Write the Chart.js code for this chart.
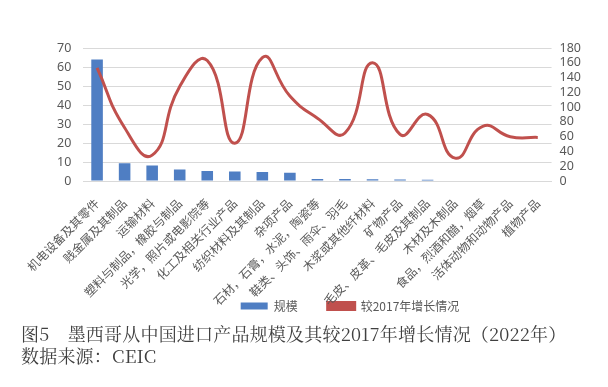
<!DOCTYPE html>
<html>
<head>
<meta charset="utf-8">
<script src="https://cdn.jsdelivr.net/npm/chart.js@4.4.0/dist/chart.umd.min.js"></script>
<style>
    body { margin: 0; background: #fff; width: 608px; height: 387px; overflow: hidden; }
    #wrap { position: relative; width: 608px; height: 322px; }
    .caption {
        position: absolute; left: 21px; color: #404040;
        font-family: "Noto Serif CJK SC", "Noto Sans CJK SC", serif;
        font-size: 18px; line-height: 22px; white-space: nowrap; letter-spacing: 0.2px;
    }
</style>
</head>
<body>
<div id="wrap"><canvas id="myChart" width="608" height="322"></canvas></div>
<div class="caption" style="top:322px;">图5　墨西哥从中国进口产品规模及其较2017年增长情况（2022年）</div>
<div class="caption" style="top:344px;">数据来源：CEIC</div>
<script>
// Data
var categories = [
    "机电设备及其零件", "贱金属及其制品", "运输材料", "塑料与制品，橡胶与制品",
    "光学，照片或电影院等", "化工及相关行业产品", "纺织材料及其制品", "杂项产品",
    "石材，石膏，水泥，陶瓷等", "鞋类、头饰、雨伞、羽毛", "木浆或其他纤材料", "矿物产品",
    "毛皮、皮革、毛皮及其制品", "木材及木制品", "食品，烈酒和醋，烟草",
    "活体动物和动物产品", "植物产品"
];
var scaleValues = [64, 9.3, 8.2, 6.0, 5.3, 5.0, 4.8, 4.4, 1.1, 1.1, 0.9, 0.8, 0.7, 0.3, 0.3, 0.2, 0.2];
var growthValues = [153, 72, 35, 128, 163, 51, 167, 115, 85, 65, 160, 63, 90, 31, 74, 60, 59];

var tickFont = { family: "'Noto Sans CJK SC', 'Noto Sans', sans-serif", size: 12 };
var numFont = { family: "'Noto Sans', 'Liberation Sans', sans-serif", size: 12.5 };
var legendFont = { family: "'Noto Sans CJK SC', 'Noto Sans', sans-serif", size: 12 };
var gray = "#595959";

// x labels run below the axis box (into the legend strip) like the original,
// so widen the clip area and nudge the legend to the right
var layoutTweaks = {
    id: "layoutTweaks",
    afterLayout: function(chart) {
        chart.scales.x.bottom = chart.scales.x.top + 130;
        chart.legend.left += 33;
        chart.legend.right += 33;
    }
};

var ctx = document.getElementById("myChart").getContext("2d");
var chart = new Chart(ctx, {
    type: "bar",
    data: {
        labels: categories,
        datasets: [{
            type: "line",
            label: "较2017年增长情况",
            data: growthValues,
            yAxisID: "y2",
            borderColor: "#C0504D",
            backgroundColor: "#C0504D",
            borderWidth: 3,
            pointRadius: 0,
            tension: 0.5,
            order: 0
        }, {
            type: "bar",
            label: "规模",
            data: scaleValues,
            yAxisID: "y",
            backgroundColor: "#4F7EC3",
            barPercentage: 0.42,
            categoryPercentage: 1,
            order: 1
        }]
    },
    options: {
        responsive: false,
        animation: false,
        layout: { padding: { left: 45, right: 19, top: 48, bottom: 0 } },
        plugins: {
            legend: {
                position: "bottom",
                reverse: true,
                maxHeight: 52,
                labels: {
                    boxWidth: 27, boxHeight: 7, padding: 30,
                    color: gray, font: legendFont
                }
            },
            tooltip: { enabled: false }
        },
        scales: {
            x: {
                grid: { display: false },
                border: { color: "#D9D9D9" },
                ticks: {
                    color: gray, font: tickFont,
                    maxRotation: 45, minRotation: 45, autoSkip: false, padding: 7
                },
                afterFit: function(scale) { scale.height = 89; }
            },
            y: {
                position: "left",
                min: 0, max: 70,
                grid: { color: "#D9D9D9", drawTicks: false },
                border: { display: false },
                ticks: { stepSize: 10, autoSkip: false, color: gray, font: numFont, padding: 12 }
            },
            y2: {
                position: "right",
                min: 0, max: 180,
                grid: { display: false, drawTicks: false },
                border: { display: false },
                ticks: { stepSize: 20, autoSkip: false, color: gray, font: numFont, padding: 8 }
            }
        }
    },
    plugins: [layoutTweaks]
});
</script>
</body>
</html>
